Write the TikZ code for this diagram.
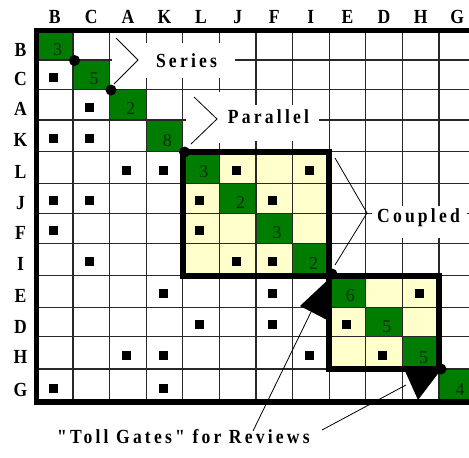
\documentclass[tikz,border=0pt]{standalone}
\usepackage{fontspec}
\setmainfont{Liberation Serif}
\newfontfamily\labfont[FakeStretch=0.88]{Liberation Serif}
\newfontfamily\annfont[FakeStretch=0.88,LetterSpace=16]{Liberation Serif}
\usetikzlibrary{calc}
\definecolor{dsmgreen}{RGB}{0,125,0}
\definecolor{dsmyellow}{RGB}{255,255,204}
\definecolor{dsmgrid}{RGB}{40,40,40}
\definecolor{dsmdigit}{RGB}{15,45,15}
\def\dsmrows{{30.5,60,89.5,120,151.7,183.3,213.3,243.3,275.5,307.3,336.7,369,402}}
\begin{document}
\begin{tikzpicture}[x=1pt,y=-1pt,
  gridline/.style={draw=dsmgrid,line width=1.2pt},
  heavy/.style={draw=black,line width=5.5pt},
  blockedge/.style={draw=black,line width=6pt},
  sqmark/.style={rectangle,fill=black,draw=none,minimum size=9pt,inner sep=0pt,outer sep=0pt},
  digit/.style={font=\fontsize{18}{20}\selectfont,text=dsmdigit,inner sep=0pt,text height=12pt,text depth=0pt},
  rowlab/.style={font=\labfont\bfseries\fontsize{20}{22}\selectfont,inner sep=0pt,text height=13.2pt,text depth=0pt},
  annot/.style={font=\annfont\bfseries\fontsize{20}{22}\selectfont,inner sep=0pt,text height=13.2pt,text depth=0pt},
  pointer/.style={draw=black,line width=0.8pt},
  junction/.style={circle,fill=black,draw=none,minimum size=11pt,inner sep=0pt},
  coverbox/.style={fill=white,draw=none}]
\useasboundingbox (0,0) rectangle (469,458);
\fill[white] (0,0) rectangle (469,458);
\begin{scope}
\clip (0,0) rectangle (469,458);
% grid corner coordinates
\foreach \j in {0,...,12}{
  \pgfmathsetmacro\yy{\dsmrows[\j]}
  \foreach \i in {0,...,12}{
    \coordinate (p-\i-\j) at ({36.4+36.6*\i},\yy);
  }
}
% cell centres
\foreach \j in {0,...,11}{
  \pgfmathsetmacro\ya{\dsmrows[\j]}
  \pgfmathsetmacro\yb{\dsmrows[\j+1]}
  \foreach \i in {0,...,11}{
    \coordinate (c-\i-\j) at ({36.4+36.6*(\i+0.5)},{(\ya+\yb)/2});
  }
}
% coupled blocks
\fill[dsmyellow] (p-4-4) rectangle (p-8-8);
\fill[dsmyellow] (p-8-8) rectangle (p-11-11);
% diagonal
\foreach \k in {0,...,11}{
  \pgfmathtruncatemacro\kk{\k+1}
  \fill[dsmgreen] (p-\k-\k) rectangle (p-\kk-\kk);
}
% grid
\foreach \i in {1,...,12}{ \draw[gridline] (p-\i-0) -- (p-\i-12); }
\foreach \j in {1,...,11}{ \draw[gridline] (p-0-\j) -- (p-12-\j); }
% marks
\foreach \i/\j in {0/1,1/2,0/3,1/3,2/4,3/4,5/4,7/4,0/5,1/5,4/5,6/5,0/6,4/6,1/7,5/7,6/7,3/8,6/8,10/8,4/9,6/9,8/9,2/10,3/10,7/10,9/10,0/11,3/11}{
  \node[sqmark] (m-\i-\j) at ($(c-\i-\j)+(-1.5,2.5)$) {};
}
% digits
\foreach \k/\n in {0/3,1/5,2/2,3/8,4/3,5/2,6/3,7/2,8/6,9/5,10/5,11/4}{
  \node[digit] (d-\k) at ($(c-\k-\k)+(2.8,4.2)$) {\n};
}
% white covers behind annotations
\fill[coverbox] (112,43) rectangle (235,78);
\fill[coverbox] (186,92) rectangle (224,143);
\fill[coverbox] (224,105) rectangle (319,141);
\fill[coverbox] (372,206) rectangle (467,238);
% heavy borders
\draw[heavy] (p-12-0) -- (p-0-0) -- (p-0-12) -- (p-12-12);
\draw[blockedge] (p-4-4) rectangle (p-8-8);
\draw[blockedge] (p-8-8) rectangle (p-11-11);
% junction dots
\node[junction] (j1) at (74.5,60.5) {};
\node[junction] (j2) at (111,90) {};
\node[junction] (j3) at (184.5,152) {};
\node[junction] (j4) at (332,274) {};
\node[junction] (j5) at (441,369) {};
% toll gates
\fill[black] (300,306) -- (331,277) -- (331,322) -- cycle;
\fill[black] (405,371) -- (440,371) -- (418,400) -- cycle;
\end{scope}
% labels
\foreach \n [count=\i from 0] in {B,C,A,K,L,J,F,I,E,D,H,G}{
  \pgfmathsetmacro\ya{\dsmrows[\i]}
  \pgfmathsetmacro\yb{\dsmrows[\i+1]}
  \node[rowlab] (col-\n) at ({36.4+36.6*(\i+0.5)},16.5) {\n};
  \node[rowlab] (row-\n) at (20.5,{(\ya+\yb)/2+4.5}) {\n};
}
% annotations
\node[annot] (series) at (186.5,60.5) {Series};
\node[annot] (parallel) at (268.5,117) {Parallel};
\node[annot] (coupled) at (418.5,215.5) {Coupled};
\node[annot] (toll) at (183.5,436.5) {"Toll Gates" for Reviews};
% brackets
\coordinate (sA) at (116,38); \coordinate (sV) at (138,60); \coordinate (sB) at (114,84);
\draw[pointer] (sA) -- (sV) -- (sB);
\coordinate (pA) at (194,97); \coordinate (pV) at (217,119); \coordinate (pB) at (191,144);
\draw[pointer] (pA) -- (pV) -- (pB);
\coordinate (qA) at (335,158); \coordinate (qV) at (367,213); \coordinate (qB) at (335,265);
\draw[pointer] (qA) -- (qV) -- (qB);
\coordinate (tA) at (253,431); \coordinate (tAe) at (311,312);
\draw[pointer] (tA) -- (tAe);
\coordinate (tB) at (322,430); \coordinate (tBe) at (406,385);
\draw[pointer] (tB) -- (tBe);
\end{tikzpicture}
\end{document}
